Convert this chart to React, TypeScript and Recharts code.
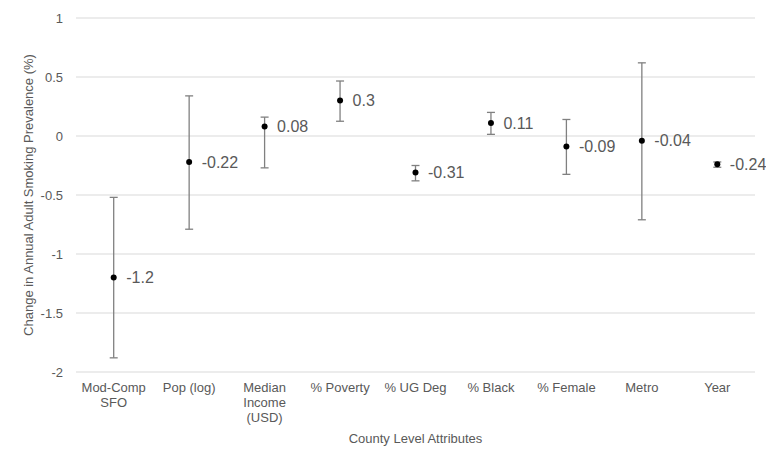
import React from "react";
import {
  ComposedChart,
  Scatter,
  ErrorBar,
  XAxis,
  YAxis,
  CartesianGrid,
  LabelList,
  Label,
} from "recharts";

const categories = [
  "Mod-Comp SFO",
  "Pop (log)",
  "Median Income (USD)",
  "% Poverty",
  "% UG Deg",
  "% Black",
  "% Female",
  "Metro",
  "Year",
];
const tickLines: string[][] = [
  ["Mod-Comp", "SFO"],
  ["Pop (log)"],
  ["Median", "Income", "(USD)"],
  ["% Poverty"],
  ["% UG Deg"],
  ["% Black"],
  ["% Female"],
  ["Metro"],
  ["Year"],
];
const means = [-1.2, -0.22, 0.08, 0.3, -0.31, 0.11, -0.09, -0.04, -0.24];
const lows = [-1.88, -0.79, -0.27, 0.125, -0.38, 0.014, -0.325, -0.71, -0.265];
const highs = [-0.52, 0.34, 0.16, 0.466, -0.25, 0.2, 0.14, 0.62, -0.22];
const yTicks = [-2, -1.5, -1, -0.5, 0, 0.5, 1];

const data = categories.map((name, i) => ({
  name,
  mean: means[i],
  err: [means[i] - lows[i], highs[i] - means[i]],
}));

const FONT = "'Liberation Sans', Arial, sans-serif";

const XTick = (props: any) => {
  const { x, y, index } = props;
  const lines = tickLines[index] || [];
  return (
    <text x={x} y={y} textAnchor="middle" fill="#595959" fontSize={13} fontFamily={FONT}>
      {lines.map((l, k) => (
        <tspan key={k} x={x} dy={k === 0 ? 12 : 15}>
          {l}
        </tspan>
      ))}
    </text>
  );
};

const Dot = (props: any) => <circle cx={props.cx} cy={props.cy} r={3} fill="#000" />;

export default function App() {
  return (
    <div
      style={{
        margin: -8,
        width: 772,
        height: 466,
        border: "1px solid #d9d9d9",
        fontFamily: FONT,
      }}
    >
      <ComposedChart
        width={772}
        height={466}
        data={data}
        margin={{ top: 17, right: 18, bottom: 15, left: 19 }}
      >
        <CartesianGrid vertical={false} stroke="#d9d9d9" />
        <XAxis
          dataKey="name"
          type="category"
          axisLine={false}
          tickLine={false}
          interval={0}
          tick={<XTick />}
          height={80}
          padding={{ left: 37.7, right: 37.7 }}
        >
          <Label
            value="County Level Attributes"
            position="insideBottom"
            offset={9}
            fill="#595959"
            fontSize={13}
            fontFamily={FONT}
          />
        </XAxis>
        <YAxis
          type="number"
          domain={[-2, 1]}
          ticks={yTicks}
          axisLine={false}
          tickLine={false}
          tickMargin={7}
          width={56}
          tick={{ fill: "#595959", fontSize: 13, fontFamily: FONT }}
        >
          <Label
            value="Change in Annual Adult Smoking Prevalence (%)"
            angle={-90}
            position="insideLeft"
            offset={8}
            style={{ textAnchor: "middle" }}
            fill="#595959"
            fontSize={13}
            fontFamily={FONT}
          />
        </YAxis>
        <Scatter dataKey="mean" shape={<Dot />} isAnimationActive={false}>
          <ErrorBar dataKey="err" direction="y" width={4} stroke="#808080" strokeWidth={1.3} />
          <LabelList
            dataKey="mean"
            position="right"
            offset={8}
            fill="#595959"
            fontSize={16}
            fontFamily={FONT}
          />
        </Scatter>
      </ComposedChart>
    </div>
  );
}
